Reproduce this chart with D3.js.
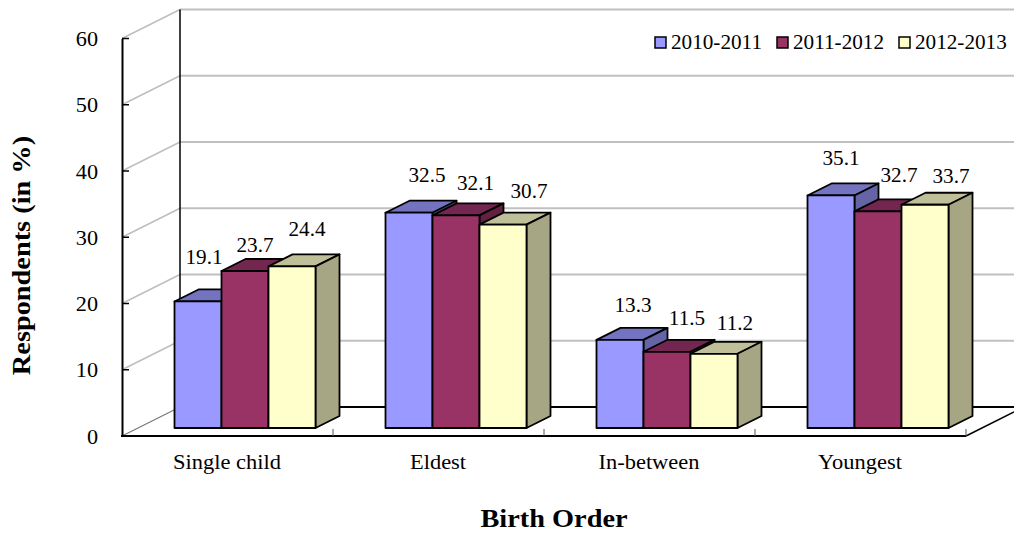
<!DOCTYPE html>
<html><head><meta charset="utf-8">
<script src="https://cdn.jsdelivr.net/npm/d3@7/dist/d3.min.js"></script>
<style>html,body{margin:0;background:#fff}svg{display:block}text{font-family:"Liberation Serif","Times New Roman",serif;fill:#000}</style>
</head><body><svg id="c" width="1014" height="533"></svg>
<script>
const categories=["Single child","Eldest","In-between","Youngest"];
const seriesNames=["2010-2011","2011-2012","2012-2013"];
const s2010=[19.1,32.5,13.3,35.1];
const s2011=[23.7,32.1,11.5,32.7];
const s2012=[24.4,30.7,11.2,33.7];
const yTicks=[0,10,20,30,40,50,60];
const yTitle="Respondents (in %)", xTitle="Birth Order";

const seriesValues=[s2010,s2011,s2012];
const fills=["#9999ff","#993366","#ffffcc"],tops=["#7373bf","#732650","#bfbf99"],sides=["#6464a6","#632142","#a6a684"];
const labelNudge=[[[6,-44],[10,-26],[15,-37]],[[18,-38],[19.5,-32],[26,-34]],[[13,-35],[20,-34],[21,-31]],[[10,-37],[21,-36],[26,-29]]];

const svg=d3.select("#c");
const y=d3.scaleLinear().domain([0,60]).range([436,38.5]);
const x=d3.scaleBand().domain(categories).range([122,966]);
const wallDx=58,wallDy=-29,barDx=24,barDy=-12,barW=47,floorDx=17.5,floorDy=-8;
const HS=1.06;
const line=(x1,y1,x2,y2,c,w)=>svg.append("line").attr("x1",x1).attr("y1",y1).attr("x2",x2).attr("y2",y2).attr("stroke",c).attr("stroke-width",w);
const stretched=(g,px,py,txt,size,anchor,weight,hs)=>g.append("text").attr("transform",`translate(${px},${py}) scale(${hs||HS},1)`).attr("text-anchor",anchor).attr("font-size",size).attr("font-weight",weight||null).text(txt);

// walls and grid
yTicks.forEach(t=>{ if(t===0)return;
  line(122,y(t),122+wallDx,y(t)+wallDy,"#bdbdbd",1.5);
  line(122+wallDx,y(t)+wallDy,1014,y(t)+wallDy,"#c0c0c0",2);
});
line(122,y(0),122+wallDx,y(0)+wallDy,"#777",1.2);
line(122+wallDx,y(0)+wallDy,1014,y(0)+wallDy,"#000",2);
line(122+wallDx,y(60)+wallDy,122+wallDx,y(0)+wallDy,"#000",1.5);
line(966,436,1014,412,"#000",1.5);

// axes
const ax=svg.append("g").attr("transform","translate(122,0)").call(d3.axisLeft(y).tickValues(yTicks).tickSize(0).tickPadding(24).tickFormat(d3.format("d")));
ax.select(".domain").attr("stroke","#000").attr("stroke-width",2);
ax.selectAll("text").remove();
yTicks.forEach(t=>{
  line(122,y(t),129,y(t),"#000",1.5);
  stretched(svg,98,y(t)+7.5,String(t),21,"end");
});
line(121,436,966,436,"#000",2);
x.domain().forEach(c=>line(x(c)+x.bandwidth(),429,x(c)+x.bandwidth(),436,"#555",1));
categories.forEach(c=>stretched(svg,x(c)+x.bandwidth()/2-0.5,469,c,21,"middle",null,1.07));

// bars
categories.forEach((c,i)=>{
  const x0=x(c)+(x.bandwidth()-3*barW)/2+floorDx;
  seriesValues.forEach((vals,j)=>{
    const bx=x0+j*barW,by=y(vals[i])+floorDy,b0=y(0)+floorDy;
    const g=svg.append("g").attr("stroke","#000").attr("stroke-width",1.8).attr("stroke-linejoin","round");
    g.append("polygon").attr("fill",tops[j]).attr("points",[[bx,by],[bx+barDx,by+barDy],[bx+barW+barDx,by+barDy],[bx+barW,by]].join(" "));
    g.append("polygon").attr("fill",sides[j]).attr("points",[[bx+barW,by],[bx+barW+barDx,by+barDy],[bx+barW+barDx,b0+barDy],[bx+barW,b0]].join(" "));
    g.append("rect").attr("fill",fills[j]).attr("x",bx).attr("y",by).attr("width",barW).attr("height",b0-by);
  });
});
categories.forEach((c,i)=>{
  const x0=x(c)+(x.bandwidth()-3*barW)/2+floorDx;
  seriesValues.forEach((vals,j)=>{
    const n=labelNudge[i][j];
    stretched(svg,x0+(j+.5)*barW+n[0],y(vals[i])+floorDy+n[1]+7,vals[i].toFixed(1),20,"middle");
  });
});

// legend
const legendX=[655,777,899];
seriesNames.forEach((n,j)=>{
  svg.append("rect").attr("x",legendX[j]).attr("y",37).attr("width",11).attr("height",11).attr("fill",fills[j]).attr("stroke","#000").attr("stroke-width",1.5);
  stretched(svg,legendX[j]+16,49,n,20,"start");
});

// titles
svg.append("text").attr("transform","translate(30,255.5) rotate(-90) scale(1.09,1)").attr("text-anchor","middle").attr("font-size",26).attr("font-weight","bold").text(yTitle);
svg.append("text").attr("transform","translate(554,527) scale(1.09,1)").attr("text-anchor","middle").attr("font-size",26).attr("font-weight","bold").text(xTitle);
</script></body></html>
